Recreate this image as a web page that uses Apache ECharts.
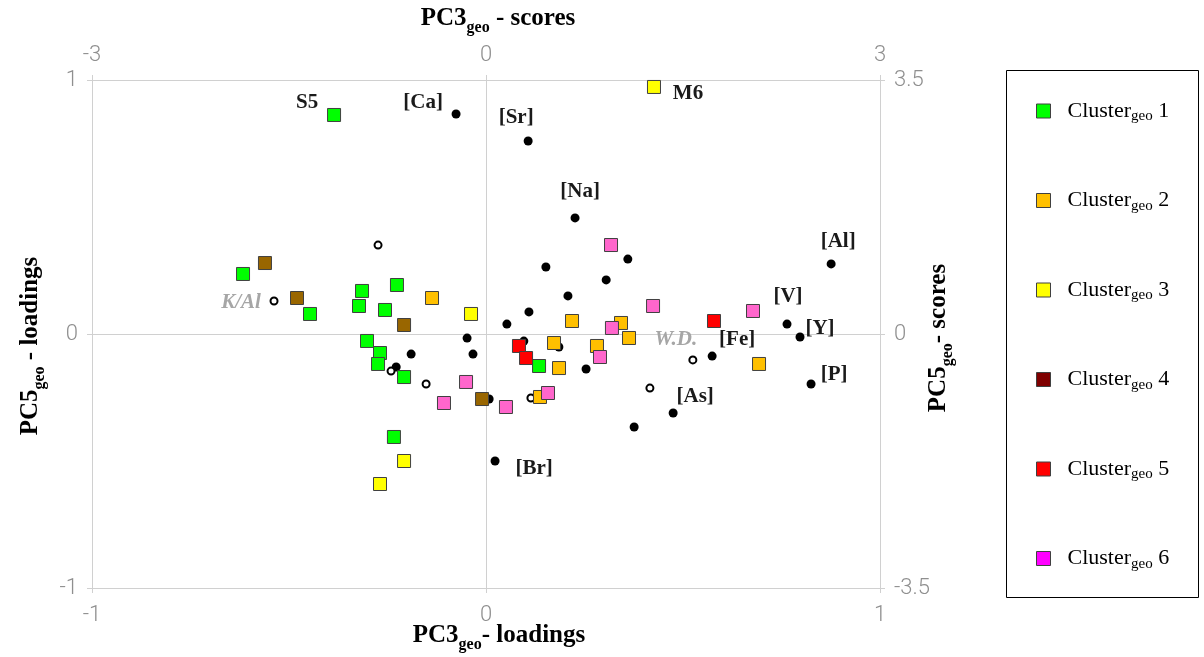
<!DOCTYPE html>
<html><head><meta charset="utf-8">
<script src="https://cdn.jsdelivr.net/npm/echarts@6/dist/echarts.min.js"></script>
<style>html,body{margin:0;padding:0;background:#fff}#c{width:1204px;height:657px}</style>
</head><body><div id="c"></div>
<script>
// ---- Loadings (PC3geo, PC5geo) of labelled variables ----
const varNames = ['[Ca]','[Sr]','[Na]','[Al]','[V]','[Y]','[P]','[Fe]','[As]','[Br]'];
const varX = [-0.076, 0.107, 0.226, 0.876, 0.764, 0.797, 0.825, 0.574, 0.475, 0.023];
const varY = [ 0.866, 0.760, 0.457, 0.276, 0.039,-0.012,-0.197,-0.087,-0.311,-0.500];
// ---- Other (unlabelled) loadings ----
const otherX = [0.360,0.152,0.305,0.208,0.109,0.053,-0.048,-0.033,0.096,0.185,0.254,0.008,0.376,-0.190,-0.228];
const otherY = [0.295,0.264,0.213,0.150,0.087,0.039,-0.016,-0.079,-0.028,-0.051,-0.138,-0.256,-0.366,-0.079,-0.130];
// ---- Supplementary loadings (hollow markers) ----
const suppNames = ['K/Al','W.D.','','','','',''];
const suppX = [-0.538, 0.525,-0.274,-0.241,-0.152, 0.416, 0.114];
const suppY = [ 0.130,-0.102, 0.350,-0.146,-0.197,-0.213,-0.252];
// ---- Scores (PC3geo, PC5geo) per cluster ----
const cluster1 = [[-1.157,3.018],[-1.850,0.827],[-0.944,0.593],[-0.678,0.675],[-0.967,0.386],[-0.769,0.331],[-1.340,0.276],[-0.906,-0.096],[-0.807,-0.262],[-0.822,-0.413],[-0.624,-0.593],[0.404,-0.441],[-0.701,-1.419]];
const cluster2 = [[-0.411,0.496],[0.655,0.179],[1.028,0.152],[0.518,-0.124],[1.089,-0.055],[0.845,-0.165],[0.556,-0.469],[2.079,-0.413],[0.411,-0.868]];
const cluster3 = [[1.279,3.404],[-0.114,0.276],[-0.624,-1.750],[-0.807,-2.067]];
const cluster4 = [[-1.683,0.978],[-1.439,0.496],[-0.624,0.124],[-0.030,-0.896]];
const cluster5 = [[0.251,-0.165],[0.305,-0.331],[1.736,0.179]];
const cluster6 = [[0.952,1.226],[1.272,0.386],[2.033,0.317],[0.959,0.083],[0.868,-0.317],[-0.152,-0.661],[0.472,-0.813],[0.152,-1.006],[-0.320,-0.951]];
const clusterNames = ['Cluster 1','Cluster 2','Cluster 3','Cluster 4','Cluster 5','Cluster 6'];
const sampleLabels = [{0:'S5'},{},{0:'M6'},{},{},{}];
// ---- Axis ticks ----
const loadTicks = [-1, 0, 1];
const pc3ScoreTicks = [-3, 0, 3];
const pc5ScoreTicks = [-3.5, 0, 3.5];

// ---- styles ----
const plotColors   = ['#00FF00','#FFC000','#FFFF00','#996600','#FF0000','#FF66CC'];
const legendColors = ['#00FF00','#FFC000','#FFFF00','#7F0000','#FF0000','#FF00FF'];
const labelOffset = {
  '[Ca]':[-33,-11],'[Sr]':[-12,-23],'[Na]':[5,-26],'[Al]':[7,-22],'[V]':[1,-28],
  '[Y]':[20,-8],'[P]':[23,-9],'[Fe]':[25,-17],'[As]':[22,-16],'[Br]':[39,8],
  'S5':[-27,-12],'M6':[34,7],'K/Al':[-33,2],'W.D.':[-17,-20]
};
const SERIF = '"Liberation Serif","Times New Roman",serif';
const TICKFONT = 'Roboto,"Liberation Sans",sans-serif';
const gridGray = '#d0d0d0';

const titleRich = {
  t: {fontFamily: SERIF, fontWeight: 'bold', fontSize: 25, color: '#000', lineHeight: 34},
  s: {fontFamily: SERIF, fontWeight: 'bold', fontSize: 16, color: '#000', verticalAlign: 'bottom'}
};
const tickLabel = (m) => ({fontFamily: TICKFONT, fontWeight: 300, fontSize: 22, color: '#8f8f8f', margin: m});

function axisBase(extra) {
  return Object.assign({
    axisLine: {show: true, onZero: false, lineStyle: {color: gridGray, width: 1}},
    axisTick: {show: true, length: 5, lineStyle: {color: gridGray}},
    splitLine: {show: false},
    nameMoveOverlap: false,
    nameTextStyle: {rich: titleRich}
  }, extra);
}
const labelBase = {show: true, position: 'inside', formatter: '{b}', fontFamily: SERIF, fontWeight: 'bold',
  fontSize: 21, color: '#1a1a1a', align: 'center', verticalAlign: 'middle', opacity: 1};

const series = [];
series.push({
  type: 'scatter', name: 'loadings', xAxisIndex: 0, yAxisIndex: 0, z: 2,
  symbol: 'circle', symbolSize: 9,
  itemStyle: {color: '#000', opacity: 1},
  data: otherX.map((x, i) => [x, otherY[i]])
});
series.push({
  type: 'scatter', name: 'labelled', xAxisIndex: 0, yAxisIndex: 0, z: 3,
  symbol: 'circle', symbolSize: 9,
  itemStyle: {color: '#000', opacity: 1},
  label: labelBase,
  data: varNames.map((n, i) => ({name: n, value: [varX[i], varY[i]], label: {offset: labelOffset[n]}}))
});
series.push({
  type: 'scatter', name: 'supp', xAxisIndex: 0, yAxisIndex: 0, z: 3,
  symbol: 'circle', symbolSize: 7,
  itemStyle: {color: '#fff', borderColor: '#000', borderWidth: 2, opacity: 1},
  label: Object.assign({}, labelBase, {fontStyle: 'italic', color: '#a6a6a6'}),
  data: suppX.map((x, i) => ({name: suppNames[i], value: [x, suppY[i]],
        label: suppNames[i] ? {offset: labelOffset[suppNames[i]]} : {show: false}}))
});
[cluster1, cluster2, cluster3, cluster4, cluster5, cluster6].forEach((pts, ci) => {
  series.push({
    type: 'scatter', name: clusterNames[ci], xAxisIndex: 1, yAxisIndex: 1, z: 5,
    symbol: 'rect', symbolSize: 13,
    itemStyle: {color: plotColors[ci], borderColor: '#404040', borderWidth: 1, opacity: 1},
    label: Object.assign({}, labelBase, {show: false}),
    data: pts.map((p, j) => {
      const nm = sampleLabels[ci][j];
      return nm ? {name: nm, value: p, label: {show: true, offset: labelOffset[nm]}} : {value: p};
    })
  });
});

const option = {
  animation: false,
  backgroundColor: '#fff',
  grid: {left: 92, right: 324, top: 80, bottom: 69, containLabel: false, outerBoundsMode: 'none'},
  xAxis: [
    axisBase({type: 'value', position: 'bottom', min: loadTicks[0], max: loadTicks[2], interval: 1,
      splitLine: {show: true, lineStyle: {color: gridGray, width: 1}},
      axisLabel: Object.assign(tickLabel(16), {formatter: v => String(v)}),
      name: '{t|PC3}{s|geo}{t|- loadings}', nameLocation: 'middle', nameGap: 31,
      nameTextStyle: {rich: titleRich, padding: [0, 0, 0, 26]}}),
    axisBase({type: 'value', position: 'top', min: pc3ScoreTicks[0], max: pc3ScoreTicks[2], interval: 3,
      axisLabel: Object.assign(tickLabel(14), {formatter: v => String(v)}),
      name: '{t|PC3}{s|geo}{t| - scores}', nameLocation: 'middle', nameGap: 44,
      nameTextStyle: {rich: titleRich, padding: [0, 0, 0, 24]}})
  ],
  yAxis: [
    axisBase({type: 'value', position: 'left', min: loadTicks[0], max: loadTicks[2], interval: 1,
      splitLine: {show: true, lineStyle: {color: gridGray, width: 1}},
      axisLabel: Object.assign(tickLabel(14), {formatter: v => String(v)}),
      name: '{t|PC5}{s|geo}{t| - loadings}', nameLocation: 'middle', nameGap: 44, nameRotate: 90,
      nameTextStyle: {rich: titleRich, padding: [0, 24, 0, 0]}}),
    axisBase({type: 'value', position: 'right', min: pc5ScoreTicks[0], max: pc5ScoreTicks[2], interval: 3.5,
      axisLabel: Object.assign(tickLabel(14), {formatter: v => String(v)}),
      name: '{t|PC5}{s|geo}{t|- scores}', nameLocation: 'middle', nameGap: 42, nameRotate: 90,
      nameTextStyle: {rich: titleRich, padding: [0, 8, 0, 0]}})
  ],
  legend: {
    orient: 'vertical', left: 1031, top: 95, itemWidth: 14, itemHeight: 14, itemGap: 65.5,
    selectedMode: false,
    data: clusterNames.map((n, i) => ({name: n, icon: 'rect',
      itemStyle: {color: legendColors[i], borderColor: '#404040', borderWidth: 1, opacity: 1}})),
    formatter: n => '{g| }{a|Cluster}{b|geo}{a| ' + n.split(' ')[1] + '}',
    textStyle: {rich: {
      g: {width: 12, lineHeight: 26},
      a: {fontFamily: SERIF, fontSize: 22, color: '#000', lineHeight: 26},
      b: {fontFamily: SERIF, fontSize: 15, color: '#000', verticalAlign: 'bottom'}
    }}
  },
  graphic: [{type: 'rect', shape: {x: 1006.5, y: 70.5, width: 192, height: 527},
             style: {fill: 'none', stroke: '#000', lineWidth: 1}, z: 100}],
  series: series
};
const chart = echarts.init(document.getElementById('c'), null, {renderer: 'canvas'});
chart.setOption(option);
</script></body></html>
